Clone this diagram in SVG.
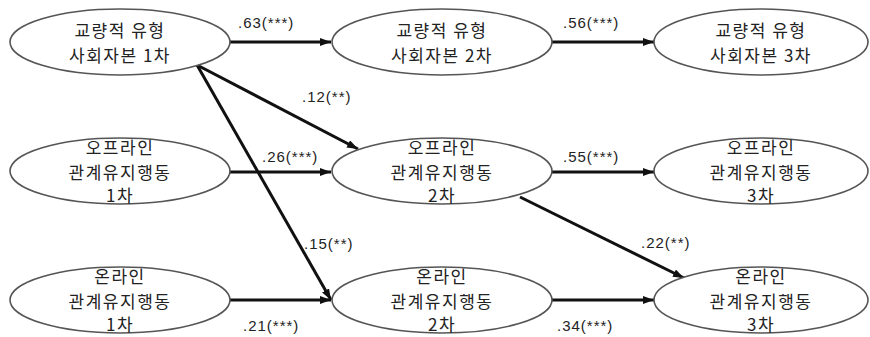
<svg xmlns="http://www.w3.org/2000/svg" width="870" height="337" viewBox="0 0 870 337">
<style>
.node ellipse{fill:#fff;stroke:#555;stroke-width:1.6}
.node text{font-family:"Noto Sans CJK KR","Noto Sans",sans-serif;font-size:17px;fill:#222;text-anchor:middle;letter-spacing:1.5px}
.edge{stroke:#111;stroke-width:3;fill:none;marker-end:url(#ah)}
.lbl{font-family:"Liberation Sans",Arial,sans-serif;font-size:15px;fill:#222;letter-spacing:1px}
</style>
<defs>
<marker id="ah" markerUnits="userSpaceOnUse" markerWidth="12" markerHeight="10" refX="11" refY="4" orient="auto">
<path d="M0,0 L11,4 L0,8 Z" fill="#111"/>
</marker>
</defs>
<rect width="870" height="337" fill="#fff"/>
<g id="connectors">
<line class="edge" x1="230" y1="42" x2="331" y2="42"/>
<line class="edge" x1="552" y1="42" x2="654" y2="42"/>
<line class="edge" x1="230" y1="172" x2="331" y2="172"/>
<line class="edge" x1="552" y1="172" x2="654" y2="172"/>
<line class="edge" x1="230" y1="300" x2="331" y2="300"/>
<line class="edge" x1="552" y1="300" x2="654" y2="300"/>
<line class="edge" x1="197" y1="65" x2="358" y2="149"/>
<line class="edge" x1="197" y1="65" x2="331" y2="300"/>
<line class="edge" x1="520" y1="197" x2="684" y2="278"/>
<text class="lbl" x="238" y="28">.63(***)</text>
<text class="lbl" x="563" y="28">.56(***)</text>
<text class="lbl" x="302" y="102">.12(**)</text>
<text class="lbl" x="262" y="162">.26(***)</text>
<text class="lbl" x="563" y="162">.55(***)</text>
<text class="lbl" x="304" y="249">.15(**)</text>
<text class="lbl" x="641" y="248">.22(**)</text>
<text class="lbl" x="243" y="331">.21(***)</text>
<text class="lbl" x="557" y="331">.34(***)</text>
</g>
<g id="n11" class="node"><ellipse cx="120" cy="42" rx="110" ry="33"/><text x="120" y="37">교량적 유형</text><text x="120" y="62">사회자본 1차</text></g>
<g id="n12" class="node"><ellipse cx="442" cy="42" rx="110" ry="33"/><text x="442" y="37">교량적 유형</text><text x="442" y="62">사회자본 2차</text></g>
<g id="n13" class="node"><ellipse cx="761" cy="42" rx="107" ry="33"/><text x="761" y="37">교량적 유형</text><text x="761" y="62">사회자본 3차</text></g>
<g id="n21" class="node"><ellipse cx="120" cy="171" rx="110" ry="33"/><text x="120" y="154">오프라인</text><text x="120" y="179">관계유지행동</text><text x="120" y="202">1차</text></g>
<g id="n22" class="node"><ellipse cx="442" cy="171" rx="110" ry="33"/><text x="442" y="154">오프라인</text><text x="442" y="179">관계유지행동</text><text x="442" y="202">2차</text></g>
<g id="n23" class="node"><ellipse cx="761" cy="171" rx="107" ry="33"/><text x="761" y="154">오프라인</text><text x="761" y="179">관계유지행동</text><text x="761" y="202">3차</text></g>
<g id="n31" class="node"><ellipse cx="120" cy="300" rx="110" ry="33"/><text x="120" y="283">온라인</text><text x="120" y="308">관계유지행동</text><text x="120" y="331">1차</text></g>
<g id="n32" class="node"><ellipse cx="442" cy="300" rx="110" ry="33"/><text x="442" y="283">온라인</text><text x="442" y="308">관계유지행동</text><text x="442" y="331">2차</text></g>
<g id="n33" class="node"><ellipse cx="761" cy="300" rx="107" ry="33"/><text x="761" y="283">온라인</text><text x="761" y="308">관계유지행동</text><text x="761" y="331">3차</text></g>
</svg>
